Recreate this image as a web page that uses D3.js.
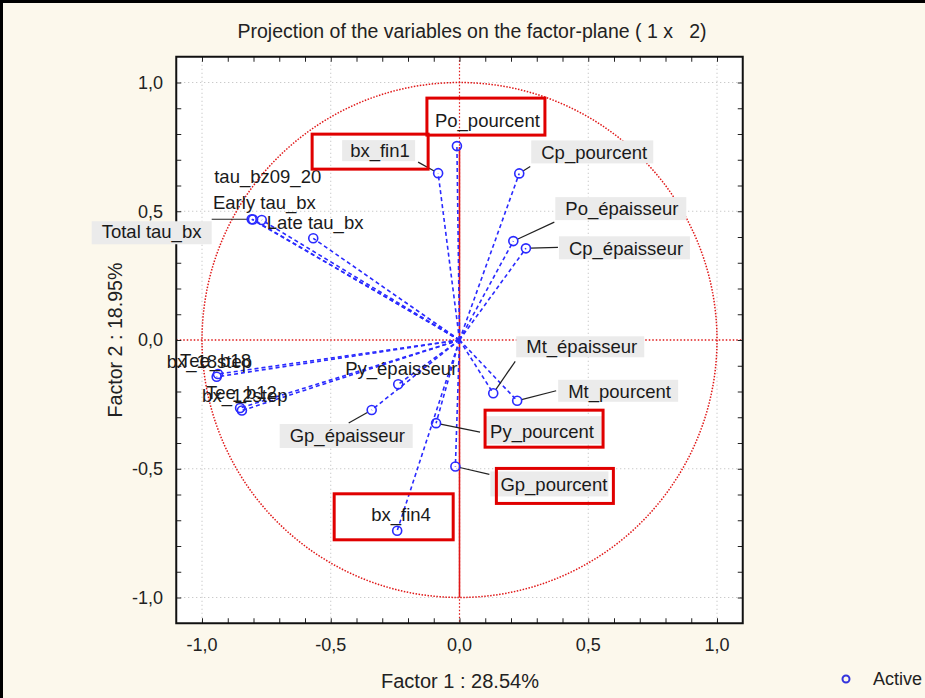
<!DOCTYPE html>
<html>
<head>
<meta charset="utf-8">
<script src="https://cdn.jsdelivr.net/npm/d3@7"></script>
<style>
  body { margin: 0; background: #fcf8ec; }
  svg { display: block; font-family: "Liberation Sans", Arial, sans-serif; }
</style>
</head>
<body>
<svg id="chart" width="925" height="698"></svg>
<script>
// variables and their coordinates on the factor plane
const varNames = ['Po_pourcent', 'bx_fin1', 'Cp_pourcent', 'Po_épaisseur', 'Cp_épaisseur',
  'Mt_épaisseur', 'Mt_pourcent', 'Py_pourcent', 'Gp_pourcent', 'bx_fin4',
  'Gp_épaisseur', 'Py_épaisseur', 'Total tau_bx', 'Early tau_bx', 'Late tau_bx',
  'tau_bz09_20', 'bx_18step', 'Tee_b18', 'bx_12step', 'Tee_b12'];
const factor1 = [-0.010, -0.083, 0.232, 0.209, 0.258,
  0.131, 0.224, -0.091, -0.016, -0.242,
  -0.341, -0.238, -0.807, -0.802, -0.768,
  -0.568, -0.943, -0.938, -0.852, -0.845];
const factor2 = [0.753, 0.648, 0.647, 0.384, 0.356,
  -0.207, -0.236, -0.323, -0.491, -0.741,
  -0.272, -0.172, 0.469, 0.468, 0.466,
  0.395, -0.143, -0.132, -0.264, -0.274];
const highlighted = ['Po_pourcent', 'bx_fin1', 'Py_pourcent', 'Gp_pourcent', 'bx_fin4'];

const tickValues = [-1, -0.5, 0, 0.5, 1];
const tickLabels = ['-1,0', '-0,5', '0,0', '0,5', '1,0'];
const title = 'Projection of the variables on the factor-plane ( 1 x   2)';
const xTitle = 'Factor 1 : 28.54%';
const yTitle = 'Factor 2 : 18.95%';
const legendLabels = ['Active'];
const redRule = [-1, 0.75];

// label placement in pixels: text origin relative to the point,
// bg / box relative to the text origin, leader start relative to the point
const labelLayout = {
  'Po_pourcent':  { dx: -22, dy: -19, box: [-8, -29, 110, 8] },
  'bx_fin1':      { dx: -88, dy: -16, bg: [-8, -17, 65, 4], leader: [-20, -11], box: [-38, -23, 78, 12] },
  'Cp_pourcent':  { dx: 22, dy: -14, bg: [-10, -19, 112, 4], leader: [11, -7] },
  'Po_épaisseur': { dx: 52, dy: -26, bg: [-10, -18, 121, 5], leader: [41, -19] },
  'Cp_épaisseur': { dx: 43, dy: 7, bg: [-10, -19, 121, 4], leader: [32, -1] },
  'Mt_épaisseur': { dx: 33, dy: -40, bg: [-10, -17, 118, 4], leader: [22, -32] },
  'Mt_pourcent':  { dx: 51, dy: -3, bg: [-10, -18, 110, 4], leader: [39, -10] },
  'Py_pourcent':  { dx: 54, dy: 15, bg: [-5, -22, 112, 6], leader: [44, 9], box: [-5, -28, 113, 9] },
  'Gp_pourcent':  { dx: 45, dy: 25, bg: [-10, -20, 108, 5], leader: [34, 8], box: [-4, -23, 113, 12] },
  'bx_fin4':      { dx: -26, dy: -10, box: [-37, -27, 82, 19] },
  'Gp_épaisseur': { dx: -82, dy: 32, bg: [-10, -18, 123, 6], leader: [-23, 13] },
  'Py_épaisseur': { dx: -53, dy: -9 },
  'Total tau_bx': { dx: -150, dy: 19, bg: [-10, -17, 110, 6], leader: [-40, 0] },
  'Early tau_bx': { dx: -40, dy: -10 },
  'Late tau_bx':  { dx: 5, dy: 9 },
  'tau_bz09_20':  { dx: -99, dy: -55 },
  'bx_18step':    { dx: -50, dy: -9 },
  'Tee_b18':      { dx: -38, dy: -7 },
  'bx_12step':    { dx: -38, dy: -6 },
  'Tee_b12':      { dx: -36, dy: -12 }
};

const svg = d3.select('#chart');
const W = 925, H = 698;

const x = d3.scaleLinear().domain([-1.1, 1.1]).range([176.25, 742.75]);
const y = d3.scaleLinear().domain([-1.1, 1.1]).range([623.25, 56.75]);
const x0 = x.range()[0], x1 = x.range()[1], y0 = y.range()[1], y1 = y.range()[0];

const blue = '#2a2aff';
const red = '#e01818';

// outer frame of the picture
svg.append('rect').attr('x', 1.5).attr('y', 1.5).attr('width', W + 20).attr('height', H + 20)
  .attr('fill', 'none').attr('stroke', '#000').attr('stroke-width', 3);

// plot area
svg.append('rect').attr('x', x0).attr('y', y0).attr('width', x1 - x0).attr('height', y1 - y0)
  .attr('fill', '#fff');

// title
svg.append('text')
  .attr('x', 472).attr('y', 38)
  .attr('text-anchor', 'middle')
  .attr('font-size', 19.5)
  .attr('fill', '#222')
  .style('white-space', 'pre')
  .attr('textLength', 469).attr('lengthAdjust', 'spacingAndGlyphs')
  .text(title);

// grid
const grid = svg.append('g');
tickValues.filter(d => d !== 0).forEach(d => {
  grid.append('line').attr('x1', x(d)).attr('x2', x(d)).attr('y1', y0).attr('y2', y1);
  grid.append('line').attr('y1', y(d)).attr('y2', y(d)).attr('x1', x0).attr('x2', x1);
});
grid.selectAll('line').attr('stroke', '#b8b8b8').attr('stroke-width', 1).attr('stroke-dasharray', '1,3');

// reference lines and unit circle
svg.append('line').attr('x1', x0).attr('x2', x1).attr('y1', y(0)).attr('y2', y(0))
  .attr('stroke', red).attr('stroke-width', 1.4).attr('stroke-dasharray', '1.5,2');
svg.append('line').attr('x1', x(0)).attr('x2', x(0)).attr('y1', y0).attr('y2', y1)
  .attr('stroke', red).attr('stroke-width', 1.2).attr('stroke-dasharray', '1.5,2');
svg.append('line').attr('x1', x(0)).attr('x2', x(0)).attr('y1', y(redRule[0])).attr('y2', y(redRule[1]))
  .attr('stroke', red).attr('stroke-width', 1.6);
svg.append('circle').attr('cx', x(0)).attr('cy', y(0)).attr('r', x(1) - x(0))
  .attr('fill', 'none').attr('stroke', red).attr('stroke-width', 1.5).attr('stroke-dasharray', '1.5,1.5');

// frame with inner ticks
const minor = d3.range(-10, 11).map(i => i / 10);
const tickLen = 5;
svg.append('g').attr('transform', `translate(0,${y1})`)
  .call(d3.axisBottom(x).tickValues(minor).tickSize(-tickLen).tickFormat(''));
svg.append('g').attr('transform', `translate(0,${y0})`)
  .call(d3.axisTop(x).tickValues(minor).tickSize(-tickLen).tickFormat(''));
svg.append('g').attr('transform', `translate(${x0},0)`)
  .call(d3.axisLeft(y).tickValues(minor).tickSize(-tickLen).tickFormat(''));
svg.append('g').attr('transform', `translate(${x1},0)`)
  .call(d3.axisRight(y).tickValues(minor).tickSize(-tickLen).tickFormat(''));
svg.selectAll('.domain').remove();
svg.selectAll('.tick line').attr('stroke', '#222');
svg.append('rect').attr('x', x0).attr('y', y0).attr('width', x1 - x0).attr('height', y1 - y0)
  .attr('fill', 'none').attr('stroke', '#111').attr('stroke-width', 2);

// tick labels
svg.append('g').selectAll('text').data(tickValues).join('text')
  .attr('x', d => x(d)).attr('y', 651)
  .attr('text-anchor', 'middle').attr('font-size', 18).attr('fill', '#222')
  .text((d, i) => tickLabels[i]);
svg.append('g').selectAll('text').data(tickValues).join('text')
  .attr('x', 163).attr('y', d => y(d)).attr('dy', '0.35em')
  .attr('text-anchor', 'end').attr('font-size', 18).attr('fill', '#222')
  .text((d, i) => tickLabels[i]);

// axis titles
svg.append('text').attr('x', 460).attr('y', 688)
  .attr('text-anchor', 'middle').attr('font-size', 19.5).attr('fill', '#222')
  .attr('textLength', 158).attr('lengthAdjust', 'spacingAndGlyphs')
  .text(xTitle);
svg.append('text').attr('transform', 'translate(122,340) rotate(-90)')
  .attr('text-anchor', 'middle').attr('font-size', 19.5).attr('fill', '#222')
  .attr('textLength', 155).attr('lengthAdjust', 'spacingAndGlyphs')
  .text(yTitle);

// variables
const pts = varNames.map((name, i) => ({
  name, px: x(factor1[i]), py: y(factor2[i]), lay: labelLayout[name]
}));

svg.append('g').selectAll('line').data(pts).join('line')
  .attr('x1', x(0)).attr('y1', y(0))
  .attr('x2', d => d.px).attr('y2', d => d.py)
  .attr('stroke', blue).attr('stroke-width', 1.6).attr('stroke-dasharray', '4,3');

const r = 4.5;
const labels = svg.append('g');
pts.forEach(d => {
  const L = d.lay, tx = d.px + L.dx, ty = d.py + L.dy;
  if (L.bg) {
    labels.append('rect')
      .attr('x', tx + L.bg[0]).attr('y', ty + L.bg[1])
      .attr('width', L.bg[2] - L.bg[0]).attr('height', L.bg[3] - L.bg[1])
      .attr('fill', '#ebebeb');
  }
  if (L.leader) {
    const lx = d.px + L.leader[0], ly = d.py + L.leader[1];
    const a = Math.atan2(ly - d.py, lx - d.px);
    labels.append('line')
      .attr('x1', lx).attr('y1', ly)
      .attr('x2', d.px + r * Math.cos(a)).attr('y2', d.py + r * Math.sin(a))
      .attr('stroke', '#222').attr('stroke-width', 1.2);
  }
});

svg.append('g').selectAll('circle').data(pts).join('circle')
  .attr('cx', d => d.px).attr('cy', d => d.py).attr('r', r)
  .attr('fill', 'none').attr('stroke', blue).attr('stroke-width', 1.6);

svg.append('g').selectAll('text').data(pts).join('text')
  .attr('x', d => d.px + d.lay.dx).attr('y', d => d.py + d.lay.dy)
  .attr('font-size', 18.5).attr('fill', '#1a1a1a')
  .text(d => d.name);

// highlight boxes
svg.append('g').selectAll('rect').data(pts.filter(d => highlighted.includes(d.name))).join('rect')
  .attr('x', d => d.px + d.lay.dx + d.lay.box[0])
  .attr('y', d => d.py + d.lay.dy + d.lay.box[1])
  .attr('width', d => d.lay.box[2] - d.lay.box[0])
  .attr('height', d => d.lay.box[3] - d.lay.box[1])
  .attr('fill', 'none').attr('stroke', '#e00000').attr('stroke-width', 3);

// legend
const legend = svg.append('g').selectAll('g').data(legendLabels).join('g')
  .attr('transform', (d, i) => `translate(846,${679 + i * 22})`);
legend.append('circle').attr('r', 3.5)
  .attr('fill', 'none').attr('stroke', '#3333dd').attr('stroke-width', 2);
legend.append('text').attr('x', 27).attr('dy', '0.35em')
  .attr('font-size', 18).attr('fill', '#222')
  .text(d => d);
</script>
</body>
</html>
